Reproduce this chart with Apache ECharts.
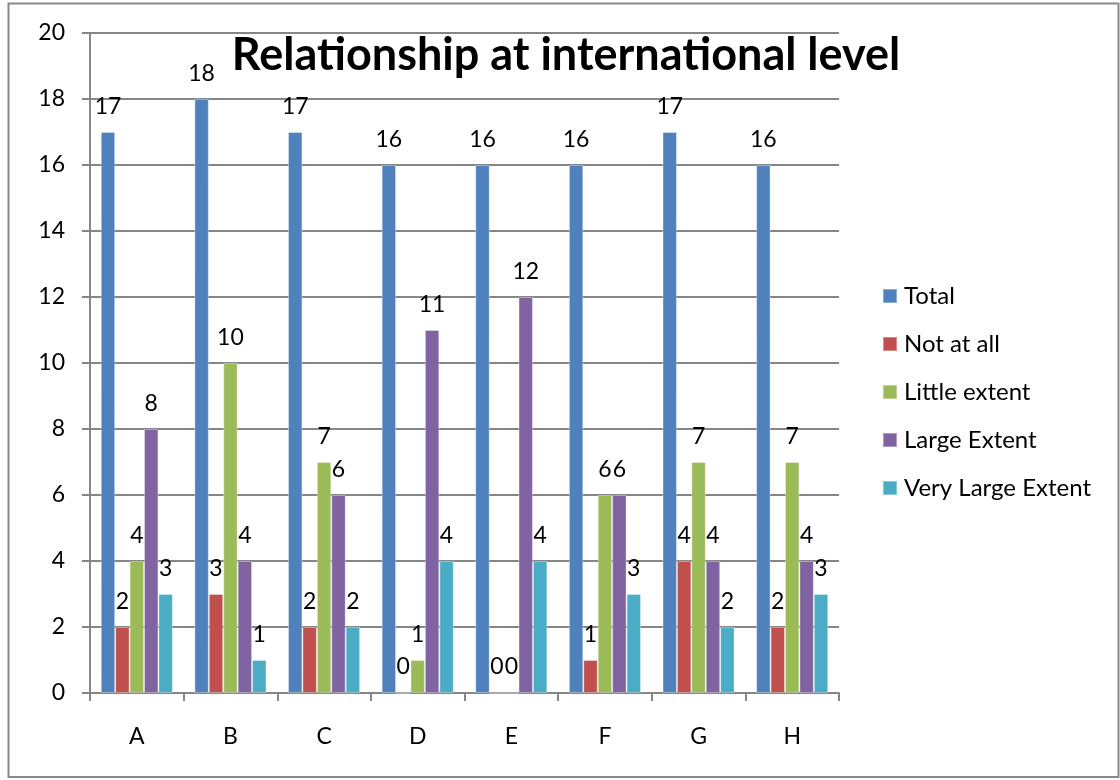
<!DOCTYPE html>
<html>
<head>
<meta charset="utf-8">
<title>Relationship at international level</title>
<script src="https://cdn.jsdelivr.net/npm/echarts@6/dist/echarts.min.js"></script>
<style>
  html, body { margin: 0; padding: 0; background: #fff; }
  #chart { width: 1120px; height: 780px; }
</style>
</head>
<body>
<div id="chart"></div>
<script>
// Categories and series values
const categories = ['A', 'B', 'C', 'D', 'E', 'F', 'G', 'H'];
const seriesNames = ['Total', 'Not at all', 'Little extent', 'Large Extent', 'Very Large Extent'];
const total = [17, 18, 17, 16, 16, 16, 17, 16];
const notAtAll = [2, 3, 2, 0, 0, 1, 4, 2];
const littleExtent = [4, 10, 7, 1, 0, 6, 7, 7];
const largeExtent = [8, 4, 6, 11, 12, 6, 4, 4];
const veryLargeExtent = [3, 1, 2, 4, 4, 3, 2, 3];
const yTicks = [0, 2, 4, 6, 8, 10, 12, 14, 16, 18, 20];

const colors = ['#4F81BD', '#C0504D', '#9BBB59', '#8064A2', '#4BACC6'];
const values = [total, notAtAll, littleExtent, largeExtent, veryLargeExtent];
const FONT = 'Lato, "Open Sans", sans-serif';
const TEXT_SIZE = 23;

const chart = echarts.init(document.getElementById('chart'), null, { renderer: 'canvas' });

chart.setOption({
  animation: false,
  backgroundColor: '#ffffff',
  color: colors,
  textStyle: { fontFamily: FONT },
  graphic: [
    {
      type: 'rect',
      shape: { x: 8.5, y: 3.5, width: 1110, height: 773.5 },
      style: { fill: 'none', stroke: '#898989', lineWidth: 2 },
      silent: true
    },
    {
      type: 'text',
      x: 566,
      y: 55,
      style: {
        text: 'Relationship at international level',
        font: 'bold 45px ' + FONT,
        fill: '#000',
        align: 'center',
        verticalAlign: 'middle'
      },
      z: 10
    }
  ],
  grid: { left: 90, right: 281, top: 33, bottom: 87, containLabel: false },
  legend: {
    orient: 'vertical',
    left: 882,
    top: 284,
    padding: 0,
    itemWidth: 14,
    itemHeight: 14,
    itemGap: 24,
    icon: 'rect',
    data: seriesNames,
    textStyle: { fontSize: 24, color: '#000', fontFamily: FONT, padding: [0, 0, 0, 2] }
  },
  xAxis: {
    type: 'category',
    data: categories,
    axisLine: { lineStyle: { color: '#868686', width: 2 } },
    axisTick: { show: true, length: 8, lineStyle: { color: '#868686', width: 2 } },
    axisLabel: { fontSize: TEXT_SIZE, color: '#000', margin: 32, fontFamily: FONT },
    splitLine: { show: false }
  },
  yAxis: {
    type: 'value',
    min: yTicks[0],
    max: yTicks[yTicks.length - 1],
    interval: 2,
    axisLine: { show: true, lineStyle: { color: '#868686', width: 2 } },
    axisTick: { show: true, length: 8, lineStyle: { color: '#868686', width: 2 } },
    axisLabel: { fontSize: TEXT_SIZE, color: '#000', margin: 25, fontFamily: FONT },
    splitLine: { show: true, lineStyle: { color: '#868686', width: 2 } }
  },
  series: seriesNames.map((name, i) => ({
    name: name,
    type: 'bar',
    data: values[i],
    barGap: '0%',
    barCategoryGap: '23%',
    itemStyle: { color: colors[i], borderColor: 'rgba(255,255,255,0.35)', borderWidth: 1 },
    label: {
      show: true,
      position: 'top',
      distance: 14,
      fontSize: TEXT_SIZE,
      color: '#000',
      fontFamily: FONT
    }
  }))
});
</script>
</body>
</html>
